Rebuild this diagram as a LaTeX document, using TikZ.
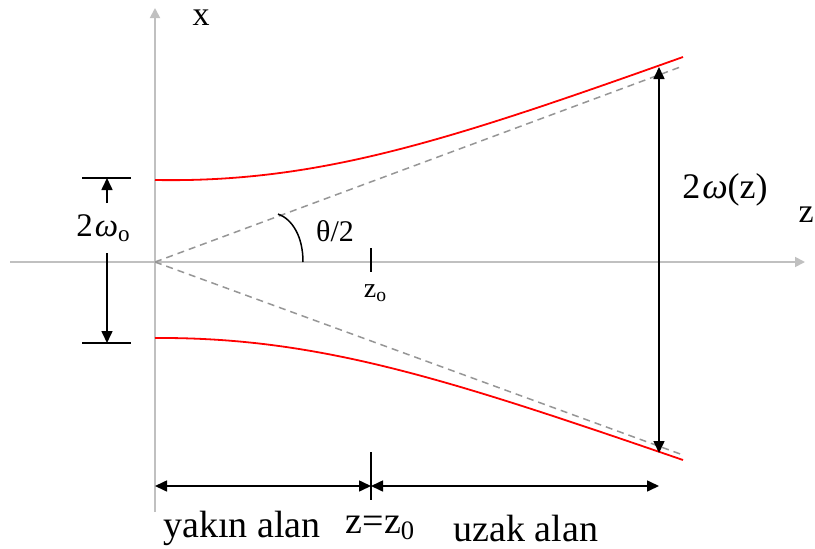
\documentclass[tikz,border=0pt]{standalone}
\usepackage{fontspec}
\usepackage{graphicx}
\setmainfont{Liberation Serif}
\usetikzlibrary{arrows.meta,calc}
\definecolor{axisgray}{RGB}{192,192,192}
\definecolor{asymgray}{RGB}{150,150,150}
\definecolor{beamred}{RGB}{255,0,0}
\newcommand{\lowsub}[1]{\raisebox{-0.35ex}{\scalebox{0.7}{#1}}}

\begin{document}
\begin{tikzpicture}[x=1pt, y=-1pt,
    axis/.style={draw=axisgray, line width=1.8pt, -{Triangle[length=10pt,width=10pt]}},
    beam/.style={draw=beamred, line width=1.8pt},
    asym/.style={draw=asymgray, line width=1.5pt, dash pattern=on 7pt off 5pt},
    dim/.style={draw=black, line width=1.6pt},
    dimup/.style={dim, -{Triangle[length=12pt,width=11pt]}},
    dimboth/.style={dim, {Triangle[length=12pt,width=11pt]}-{Triangle[length=12pt,width=11pt]}},
    biglbl/.style={font=\fontsize{38}{44}\selectfont, inner sep=0pt},
    smalllbl/.style={font=\fontsize{30}{34}\selectfont, inner sep=0pt}]

  \useasboundingbox (0,0) rectangle (815,549);

  % Axes
  \coordinate (O) at (155,262);
  \coordinate (zleft) at (10,262);
  \coordinate (zright) at (805,262);
  \coordinate (xbottom) at (155,512);
  \coordinate (xtop) at (155,8);
  \draw[axis] (zleft) -- (zright);
  \draw[axis] (xbottom) -- (xtop);
  \node[font=\fontsize{34}{40}\selectfont, inner sep=0pt] (xlabel) at (201,18) {x};
  \node[font=\fontsize{34}{40}\selectfont, inner sep=0pt, anchor=east] (zlabel) at (814,215) {z};

  % Asymptotes
  \coordinate (asymU) at (683,66);
  \coordinate (asymL) at (683,455);
  \draw[asym] (O) -- (asymU);
  \draw[asym] (O) -- (asymL);

  % Beam envelope
  \coordinate (beamU0) at (155,180);
  \coordinate (beamU1) at (683,57);
  \coordinate (beamL0) at (155,338);
  \coordinate (beamL1) at (683,460);
  \draw[beam] (beamU0) .. controls (320,183) and (450,140) .. (beamU1);
  \draw[beam] (beamL0) .. controls (320,337) and (450,380) .. (beamL1);

  % Divergence angle
  \coordinate (arcA) at (303,262);
  \coordinate (arcB) at (278,214);
  \draw[dim, line width=1.5pt] (arcA) .. controls (303,236) and (292,219) .. (arcB);
  \node[smalllbl] (theta) at (335,231) {θ/2};

  % Rayleigh range mark
  \coordinate (zoT) at (371,248);
  \coordinate (zoB) at (371,272);
  \draw[dim, line width=1.3pt] (zoT) -- (zoB);
  \node[font=\fontsize{28}{32}\selectfont, inner sep=0pt] (zolabel) at (375,293) {z\lowsub{o}};

  % Waist width
  \coordinate (wTa) at (82,178);
  \coordinate (wTb) at (131,178);
  \coordinate (wBa) at (82,343);
  \coordinate (wBb) at (131,343);
  \draw[dim] (wTa) -- (wTb);
  \draw[dim] (wBa) -- (wBb);
  \draw[dimup] (107,203) -- (107,178);
  \draw[dimup] (107,253) -- (107,343);
  \node[font=\fontsize{33}{38}\selectfont, inner sep=0pt] (w0label) at (103,228) {2\hspace{2pt}\textit{ω}\lowsub{o}};

  % Beam width at z
  \coordinate (wzT) at (659,67);
  \coordinate (wzB) at (659,453);
  \draw[dimboth] (wzB) -- (wzT);
  \node[font=\fontsize{36}{42}\selectfont, inner sep=0pt] (wzlabel) at (725,190) {2\hspace{2pt}\textit{ω}(z)};

  % Near / far field
  \coordinate (nearL) at (155,486);
  \coordinate (split) at (371,486);
  \coordinate (farR) at (659,486);
  \draw[dim, line width=1.3pt] (371,452) -- (371,500);
  \draw[dimboth] (nearL) -- (split);
  \draw[dimboth] (split) -- (farR);
  \node[biglbl] (nearlabel) at (242,528) {yakın alan};
  \node[biglbl] (zzlabel) at (380,528) {z=z\lowsub{0}};
  \node[biglbl] (farlabel) at (526,528) {uzak alan};

\end{tikzpicture}
\end{document}
